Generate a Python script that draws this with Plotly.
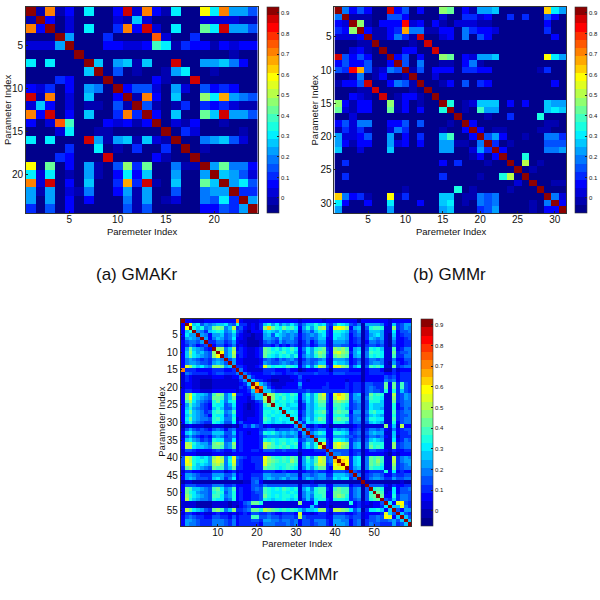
import plotly.graph_objects as go

# cell values are stored as one base-25 digit per cell (index into the 25 colour bands)
gmakr_rows = [
    "o1j1309003n2j31900g9j775",
    "1o3020000218200000222211",
    "j3o0209004j3n20900c9n775",
    "000o700040000k2004000000",
    "2227o00033223b9143313233",
    "00000o000000000000000100",
    "909000o80781800n00778630",
    "0000008o0501001790010000",
    "00043000o00003100n000000",
    "324030760o35520720534300",
    "n1j0208003o1j30800d9i765",
    "28302011051o510140434211",
    "j3n0308004j4o30800c8n775",
    "302kb00032313o0213001000",
    "00029001100000o042000010",
    "909000n71781821o00678520",
    "0000400901040040o0100000",
    "00043000n00003100o000000",
    "g0c0307105d4c00611o7c663",
    "9290107103938007007o8752",
    "j2n0308004i4n10800c8o795",
    "717021600371700500677o44",
    "7070303000617012006594o7",
    "40503000005150000033547o",
]

gmmr_rows = [
    "o635300n35 0300dc0317 78000000h9 7",
    "6o11100553 0000200442 3004040053 0",
    "32od103 33m 2303102221 1000000030 0",
    "43do3113 4i 6611330643 3200000040 0",
    "22 23o1136 4 1n00230605 3000000003 0",
    "0001 1o0000 10n0000000 0000000000 0",
    "0023 10o003 300n000000 0000000000 0",
    "n53530 0o35 0300dc0327 78000000g9 7",
    "3533500 3o5 0600110361 0000000000 0",
    "54mi5126 5o 1503330443 3000000140 0",
    "0016013001 o002000000 0000000000 0",
    "1335n00365 1o00130504 3000000003 0",
    "00011n0000 10o0000000 0000000000 0",
    "00321 0n013 310o000000 0000000000 0",
    "d31330 0d13 0100oa0128 8803030087 7",
    "c21330 0c13 0300ao01 0b 7700000089 8",
    "0020000000 000000o000 100 4000a00 0",
    "3526600335 0500010o30 0000000011 0",
    "1424100264 0000100 3o3 0110000110 0",
    "7223500703 0400 8b003o 5730010066 4",
    "7313300723 03007711 06 o401000055 5",
    "8002000800 0000770027 4o30000066 7",
    "0000000000 0000000013 03o00a0000 0",
    "0400000000 0000304000 100o0e0100 0",
    "0000000000 0000000000 0000o01000 0",
    "0400000000 0000400001 00ae0o0000 0",
    "0000000000 0000000000 00002 0o001 1",
    "0000000001 000000a010 0001000o00 0",
    "h6341 00g14 0000880116 5600000 0o6 2",
    "9300300900 0300890106 5600001 06o 3",
    "7000000700 0000780004 5700001033 o",
]

ckmmr_rows = [
    "o332223333 3333j32222 3333333333 2333332333 3333313333 333233333",
    "3og8957678 8965a44232 48a7968797 4688a89547 a985461777 763284577",
    "3goa8a67cd c68e453232 4dhca9cab9 37a7ade53f gfd37815ab ba22d4576",
    "38ao76489a 967a542133 3898797878 26758a943a a984571488 872293556",
    "3977o76377 8568432212 2785987676 3567689439 9873561478 972183455",
    "27876o7368 7569332112 2776586675 3565688339 8873451487 672173345",
    "356657o446 6457322111 2565475665 2463577327 7763451366 562163344",
    "3465345o35 5346232111 2443534354 2453466326 6553341455 452153344",
    "37c87643od d68d343223 4cb9a8a9b9 3697abc43d cdb37815a9 a822b3466",
    "38d97865do g68e443223 4cba9ab9a8 3597bdc53e fdc47916ba a922c4556",
    "38c98765dg o68d343223 4ca98a9a8a 3687acb43c dcb37816a9 a922b4466",
    "3676545467 6o57332222 3565465675 2465567327 7763451466 562263355",
    "3677655478 75o7332222 3765567656 2565688329 8873461467 762174345",
    "3fda8976dd c78o443223 4fb9aa9ba9 3696aed53f fdc47915ba b922c4566",
    "j444333344 4334o63222 2444333433 1233344314 4443331344 431142333",
    "2654444345 54446o6433 3445443445 4444544435 5544441344 443343444",
    "2432222233 322336o743 3332222233 5333333333 3333331333 335453444",
    "2432211122 2222247o85 4321122223 4323333333 3323331333 336563444",
    "2332211122 22222348oh 8642222333 7333333433 3343442554 44c3c4b54",
    "2332211122 22222435ho k853223333 5333334433 3343442565 44c3c4b54",
    "3443322233 333323348k o885444444 4454444444 4443442565 54a3a4854",
    "3dfa8875bd c68f443368 8oedaba9ba 37a7adf53f hfd47815ca ba22e4576",
    "3dg98765cc b68c333258 8eoda9b9a9 3797ade53e gfd47716ba a922d4576",
    "3bd97654ac 969a333224 5doc9aa9a8 2697acc53c dcb46715aa a822c4566",
    "37b87543a9 9569332123 4acoa9a899 24879bb43b ba94561598 8822a3566",
    "38a765438a 8558332123 499aao9988 24879aa43a ba84561598 8722a3465",
    "39c87645ab a67b332223 4aa9a9o9a9 3587abc53b cbb37716ab 9922b4566",
    "38a87653a9 9569332223 4a9a999o99 25879aa43a aa84661589 8722a4556",
    "39c87665ab 966a232333 4ba89a99oa 3697acb43b cbb46716aa 9922b4566",
    "38a76544a9 8559353333 4a989989ao 74989aa43a aa84661589 8722a3566",
    "1232221122 2112135475 4232222237 o732432312 2222341222 22d382e33",
    "2575454356 5356333333 4566455565 7o64566337 6763451466 563263455",
    "3897655588 8558343233 5a9a878787 37o68a933a a984561578 772283445",
    "2575434367 6456343333 4677767667 265o677337 7765451466 563282444",
    "38976454a9 9559343333 4a9a9aa9a9 4577oaa43a a984561589 872293465",
    "3eda8775cd c67d343333 4edb9ab9ab 37a7aof43e ged47816ba aa22d4566",
    "3ee98876cc b67c343333 4ecbabab9a 3797afo43e fdc47816ca ba22d4566",
    "2554333345 4335343344 3555445444 2333444o65 5553441355 443243344",
    "2333222233 3223333333 3333333333 13333336o6 6553451333 332132333",
    "5fea9897df d69f654344 4gdbaabacb 27b7bfe56o hgf48916cb cb22e4676",
    "5gea9a97ef e6af543344 4fdcbabadb 27a8bfe56h ohg48916cb db22e4677",
    "5ffa8987de c69e543334 4fcbaaabba 2798cee45g hog48916cb ca22d4567",
    "4cd98765cb b68c443334 4cbba9aba9 2697acc43f fgo47816ba a922c4566",
    "2443322244 4234233333 3444334333 2344544335 554o541344 44a393433",
    "3776544477 7557343344 4776666766 2665677448 8875o61456 653354455",
    "3787555489 7469343355 4787678677 3687677559 89946o1467 764475566",
    "1221111111 1111112256 3111111111 1112111111 111111o111 111111211",
    "3555444466 6445333355 4655555555 2554466336 6663441o55 553243344",
    "3cb88765bc 967b343356 5ba9a9ba9a 2796abb43b cbb46715oa ba2293556",
    "3ca97665ab a57a343345 5ba999a9a9 2687abb33c cbb46715ao cb2393555",
    "3db98765bb 967a343344 5ca9a9aa9a 2686aab33c dca46715bc oc33a4665",
    "3ea87665a9 956a343344 5a9899a989 25859aa43a aa945615ab co5484665",
    "2222111122 22122356cc a222222222 d333922322 222a342323 35o93fg54",
    "2222111122 2212134533 3222222222 3338422312 2223342223 349o88f64",
    "3ec98754cd b68d4456cc aedcbababa 86889dd43e edc9571499 a838o5377",
    "2443232234 3323234355 4454334443 f332344324 4433452333 34f85o854",
    "3565443355 44353444bb 5565545554 e544444336 6654552355 65gf38o85",
    "3776544466 6546344455 4776656656 3554666437 7663561455 6556758o8",
    "3766544466 6546344444 3666555656 3554566437 7763561465 54447458o",
]

band_colors = [
    "#00008c", "#0000b0", "#0000d8", "#0000ff", "#0028ff", "#0050ff", "#0078ff",
    "#00a0ff", "#00c8ff", "#00f0ff", "#18ffe0", "#40ffc0", "#68ff98", "#90ff70",
    "#b8ff48", "#e0ff20", "#ffff00", "#ffd000", "#ffa800", "#ff8000", "#ff5800",
    "#ff3000", "#ff0000", "#d00000", "#8c0000",
]

zmin = -0.073
zmax = 0.929
step = (zmax - zmin) / len(band_colors)

FONT = "Liberation Sans"


def decode(rows):
    n = len(rows)
    out = []
    for r in rows:
        r = r.replace(" ", "")
        r = (r + "0" * n)[:n]
        out.append([round(zmin + (int(c, 36) + 0.5) * step, 3) for c in r])
    return out


# stepped scale so the colorbar shows bands like the original
scale = []
for i, c in enumerate(band_colors):
    scale.append([i / len(band_colors), c])
    scale.append([(i + 1) / len(band_colors), c])

panels = [
    dict(rows=gmakr_rows, ticks=[5, 10, 15, 20], box=(26, 258, 7, 213), cb=267,
         xlab=142, xlab_y=231, ylab=7, ylab_y=110, cap="(a) GMAKr", cap_x=137, cap_y=275),
    dict(rows=gmmr_rows, ticks=[5, 10, 15, 20, 25, 30], box=(335, 567, 7, 213), cb=575,
         xlab=452, xlab_y=231, ylab=315, ylab_y=110, cap="(b) GMMr", cap_x=450, cap_y=275),
    dict(rows=ckmmr_rows, ticks=[10, 20, 30, 40, 50], box=(181, 412, 319, 526), cb=421,
         xlab=297, xlab_y=543, ylab=161, ylab_y=422, cap="(c) CKMMr", cap_x=297, cap_y=574),
]

fig = go.Figure()
annotations = []
layout = {}

for i, p in enumerate(panels):
    n = len(p["rows"])
    x0, x1, y0, y1 = p["box"]
    suffix = "" if i == 0 else str(i + 1)
    idx = list(range(1, n + 1))

    yticks = p["ticks"] if n != 59 else [5, 10, 15, 20, 25, 30, 35, 40, 45, 50, 55]
    fig.add_trace(go.Heatmap(
        z=decode(p["rows"]), x=idx, y=idx,
        xaxis="x" + suffix, yaxis="y" + suffix,
        zmin=zmin, zmax=zmax, colorscale=scale, showscale=True,
        colorbar=dict(
            x=p["cb"] / 600, xanchor="left", xpad=0, ypad=0,
            y=1 - (y0 + y1) / 2 / 600, yanchor="middle",
            len=(y1 - y0) / 600, lenmode="fraction",
            thickness=12, thicknessmode="pixels",
            tickvals=[0, 0.1, 0.2, 0.3, 0.4, 0.5, 0.6, 0.7, 0.8, 0.9],
            ticktext=["0", "0.1", "0.2", "0.3", "0.4", "0.5", "0.6", "0.7", "0.8", "0.9"],
            ticks="inside", ticklen=2, tickwidth=0.5, tickcolor="#222222",
            tickfont=dict(family=FONT, size=6, color="#111111"),
            outlinecolor="#333333", outlinewidth=0.6,
        ),
    ))

    layout["xaxis" + suffix] = dict(
        domain=[x0 / 600, x1 / 600], range=[0.5, n + 0.5], anchor="y" + suffix,
        tickvals=p["ticks"], ticks="inside", ticklen=2, tickwidth=0.5, tickcolor="#222222",
        ticklabelstandoff=-3,
        tickfont=dict(family=FONT, size=10, color="#111111"),
        showgrid=False, zeroline=False, showline=True, linecolor="#333333", linewidth=0.6, mirror=True,
    )
    layout["yaxis" + suffix] = dict(
        domain=[1 - y1 / 600, 1 - y0 / 600], range=[n + 0.5, 0.5], anchor="x" + suffix,
        tickvals=yticks, ticks="inside", ticklen=2, tickwidth=0.5, tickcolor="#222222",
        tickfont=dict(family=FONT, size=10, color="#111111"),
        showgrid=False, zeroline=False, showline=True, linecolor="#333333", linewidth=0.6, mirror=True,
    )

    annotations.append(dict(text="Paremeter Index", x=p["xlab"] / 600, y=1 - p["xlab_y"] / 600,
                            xref="paper", yref="paper", showarrow=False, xanchor="center", yanchor="middle",
                            font=dict(family=FONT, size=9.5, color="#111111")))
    annotations.append(dict(text="Parameter Index", x=p["ylab"] / 600, y=1 - p["ylab_y"] / 600,
                            xref="paper", yref="paper", showarrow=False, xanchor="center", yanchor="middle",
                            textangle=-90, font=dict(family=FONT, size=9.5, color="#111111")))
    annotations.append(dict(text=p["cap"], x=p["cap_x"] / 600, y=1 - p["cap_y"] / 600,
                            xref="paper", yref="paper", showarrow=False, xanchor="center", yanchor="middle",
                            font=dict(family=FONT, size=17, color="#111111")))

fig.update_layout(
    width=600, height=600,
    margin=dict(l=0, r=0, t=0, b=0),
    paper_bgcolor="white", plot_bgcolor="white",
    showlegend=False,
    annotations=annotations,
    **layout,
)

# page body has a default margin, drop it so the 600px figure fits the window
fig.write_html("out.html", config={"displayModeBar": False},
               post_script="document.body.style.margin='0';")
